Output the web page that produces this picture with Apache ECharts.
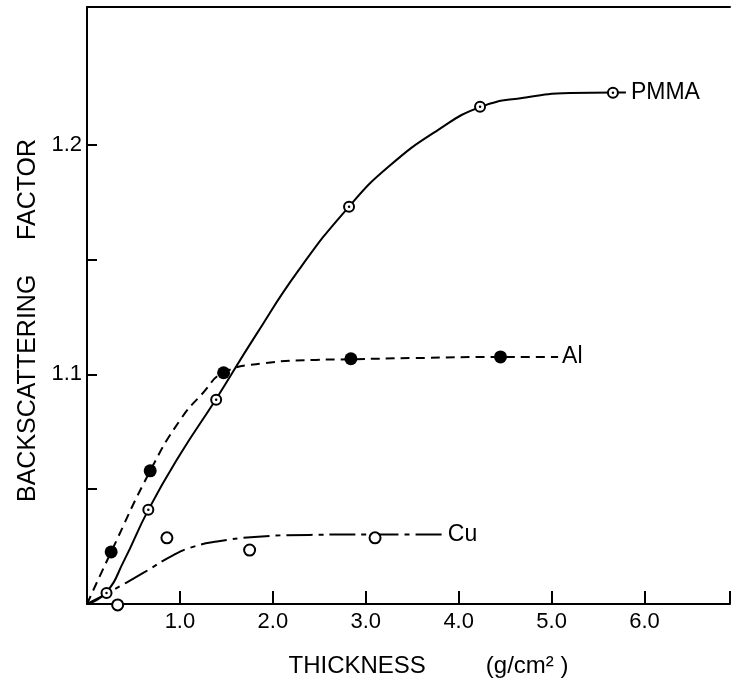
<!DOCTYPE html>
<html>
<head>
<meta charset="utf-8">
<script src="https://cdn.jsdelivr.net/npm/echarts@6/dist/echarts.min.js"></script>
<style>
html,body{margin:0;padding:0;background:#fff;}
#chart{width:733px;height:695px;}
</style>
</head>
<body>
<div id="chart"></div>
<script>
'use strict';
// measured points (thickness g/cm2, backscattering factor)
var pmmaX = [0.21, 0.66, 1.39, 2.82, 4.23, 5.66];
var pmmaY = [1.0048, 1.041, 1.089, 1.173, 1.2166, 1.2227];
var alX = [0.26, 0.68, 1.47, 2.84, 4.45];
var alY = [1.0227, 1.058, 1.1007, 1.1068, 1.1076];
var cuX = [0.33, 0.86, 1.75, 3.1];
var cuY = [0.9996, 1.0288, 1.0235, 1.0288];

// hand drawn fit curves
var pmmaCurveX = [0, 0.2, 0.4, 0.66, 1.0, 1.39, 1.8, 2.28, 2.82, 3.25, 3.78, 4.23, 4.7, 5.2, 5.66, 5.8];
var pmmaCurveY = [1.0, 1.0047, 1.019, 1.041, 1.065, 1.0893, 1.116, 1.1455, 1.1731, 1.1906, 1.2065, 1.2164, 1.2205, 1.2225, 1.2228, 1.2228];
var alCurveX = [0, 0.26, 0.68, 1.0, 1.25, 1.47, 1.9, 2.46, 2.84, 3.5, 4.45, 5.07];
var alCurveY = [1.0, 1.0227, 1.058, 1.080, 1.092, 1.1008, 1.1048, 1.1063, 1.1066, 1.1071, 1.1076, 1.1076];
var cuCurveX = [0, 0.25, 0.6, 0.93, 1.15, 1.4, 1.8, 2.4, 3.1, 3.84];
var cuCurveY = [1.0, 1.0054, 1.0134, 1.0213, 1.025, 1.0272, 1.0292, 1.0301, 1.0303, 1.0303];

var xTicks = [1, 2, 3, 4, 5, 6];
var yTicks = [1.05, 1.1, 1.15, 1.2];
var yLabels = [1.1, 1.2];

function pairs(xs, ys){
	var out = [];
	for (var i = 0; i < xs.length; i++) out.push([xs[i], ys[i]]);
	return out;
}

var FONT = '"Liberation Sans","DejaVu Sans",sans-serif';

var chart = echarts.init(document.getElementById('chart'));
chart.setOption({
	animation:false,
	backgroundColor:'#fff',
	grid:{left:87, right:0, top:7, bottom:91},
	xAxis:[{
		type:'value', min:0, max:6.92, interval:1,
		name:'THICKNESS         (g/cm\u00b2 )', nameLocation:'middle', nameGap:50,
		nameTextStyle:{color:'#000', fontSize:24, fontFamily:FONT, padding:[0,0,0,40]},
		axisLine:{lineStyle:{color:'#000', width:2}},
		axisTick:{inside:true, length:13, lineStyle:{color:'#000', width:2}},
		axisLabel:{color:'#000', fontSize:22, fontFamily:FONT, margin:7,
			formatter:function(v){ return xTicks.indexOf(Math.round(v*100)/100) >= 0 ? v.toFixed(1) : ''; }},
		splitLine:{show:false}
	},{
		type:'value', min:0, max:6.92, position:'top',
		axisLine:{show:true, lineStyle:{color:'#000', width:2}},
		axisTick:{show:false}, axisLabel:{show:false}, splitLine:{show:false}
	}],
	yAxis:{
		type:'value', min:1.0, max:1.26, interval:0.05,
		name:'BACKSCATTERING     FACTOR', nameLocation:'middle', nameGap:45, nameRotate:90,
		nameTextStyle:{color:'#000', fontSize:25, fontFamily:FONT, padding:[0,30,0,0]},
		axisLine:{lineStyle:{color:'#000', width:2}},
		axisTick:{inside:true, length:10, customValues:yTicks, lineStyle:{color:'#000', width:2}},
		axisLabel:{color:'#000', fontSize:22, fontFamily:FONT, margin:5,
			formatter:function(v){ return yLabels.indexOf(Math.round(v*100)/100) >= 0 ? v.toFixed(1) : ''; }},
		splitLine:{show:false}
	},
	series:[
		{type:'line', data:pairs(pmmaCurveX, pmmaCurveY), smooth:0.5, symbol:'none',
			lineStyle:{color:'#000', width:2},
			endLabel:{show:true, formatter:'PMMA', distance:5, color:'#000', fontSize:23, fontFamily:FONT}},
		{type:'line', data:pairs(alCurveX, alCurveY), smooth:0.5, symbol:'none',
			lineStyle:{color:'#000', width:2, type:[9,6]},
			endLabel:{show:true, formatter:'Al', distance:4, color:'#000', fontSize:23, fontFamily:FONT}},
		{type:'line', data:pairs(cuCurveX, cuCurveY), smooth:0.5, symbol:'none',
			lineStyle:{color:'#000', width:2, type:[26,6,5,6]},
			endLabel:{show:true, formatter:'Cu', distance:4, color:'#000', fontSize:23, fontFamily:FONT}},
		{type:'scatter', data:pairs(pmmaX, pmmaY), symbolSize:10, clip:false, z:5,
			itemStyle:{color:'#fff', borderColor:'#000', borderWidth:2, opacity:1}},
		{type:'scatter', data:pairs(pmmaX, pmmaY), symbolSize:2.5, clip:false, z:6,
			itemStyle:{color:'#000', opacity:1}},
		{type:'scatter', data:pairs(alX, alY), symbolSize:13, clip:false, z:5,
			itemStyle:{color:'#000', opacity:1}},
		{type:'scatter', data:pairs(cuX, cuY), symbolSize:11, clip:false, z:5,
			itemStyle:{color:'#fff', borderColor:'#000', borderWidth:2, opacity:1}}
	]
});
</script>
</body>
</html>
